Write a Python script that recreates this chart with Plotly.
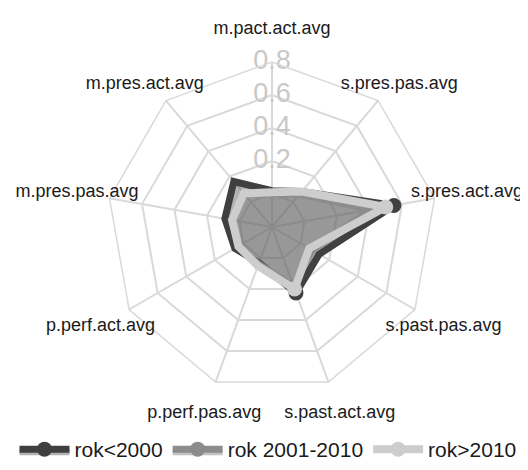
import plotly.graph_objects as go

categories = ["m.pact.act.avg", "s.pres.pas.avg", "s.pres.act.avg", "s.past.pas.avg",
              "s.past.act.avg", "p.perf.pas.avg", "p.perf.act.avg", "m.pres.pas.avg",
              "m.pres.act.avg"]

rok_lt_2000 = [0.02, 0.08, 0.55, 0.13, 0.225, 0.03, 0.06, 0.09, 0.16]
rok_2001_2010 = [0.0, 0.06, 0.41, 0.08, 0.18, 0.04, 0.03, 0.05, 0.06]
rok_gt_2010 = [0.01, 0.08, 0.50, 0.06, 0.20, 0.05, 0.035, 0.045, 0.065]

series_names = ["rok<2000", "rok 2001-2010", "rok>2010"]
series_values = [rok_lt_2000, rok_2001_2010, rok_gt_2010]
series_colors = ["#404040", "#8c8c8c", "#cdcdcd"]
series_widths = [7, 7, 8]
series_fills = ["rgba(64,64,64,0.4)", "rgba(120,120,120,0.45)", "rgba(0,0,0,0)"]

tick_vals = [0, 0.2, 0.4, 0.6, 0.8]
tick_text = ["0", "0.2", "0.4", "0.6", "0.8"]
r_min, r_max = -0.2, 0.8
label_r = 1.0
label_range_max = 1.05
label_positions = ["middle center", "bottom center", "middle center", "middle center",
                   "middle center", "middle center", "middle center", "middle center",
                   "bottom center"]

FONT = "Liberation Sans, Arial, sans-serif"
GRID = "#d9d9d9"

# geometry (pixels); the page adds an 8px body margin, so the figure is 8px smaller
W, H = 520, 462
cx, cy, R = 264, 219, 165


def domain_for(radius):
    return dict(x=[(cx - radius) / W, (cx + radius) / W],
                y=[(H - cy - radius) / H, (H - cy + radius) / H])


fig = go.Figure()

# radial tick labels (drawn beneath the series)
fig.add_trace(go.Scatterpolar(
    r=tick_vals, theta=[categories[0]] * len(tick_vals), mode="text",
    text=tick_text, textposition="middle center",
    textfont=dict(size=27, color="#c8c8c8", family=FONT),
    showlegend=False, hoverinfo="skip", cliponaxis=False))

for name, vals, col, lw, fc in zip(series_names, series_values, series_colors,
                                   series_widths, series_fills):
    fig.add_trace(go.Scatterpolar(
        r=vals + vals[:1], theta=categories + categories[:1],
        name=name, mode="lines+markers",
        line=dict(color=col, width=lw),
        marker=dict(color=col, size=15),
        fill="toself", fillcolor=fc))

# category labels on an overlaid, wider polar subplot
fig.add_trace(go.Scatterpolar(
    r=[label_r] * len(categories), theta=categories, mode="text",
    text=categories, textposition=label_positions,
    textfont=dict(size=18, color="#1a1a1a", family=FONT),
    showlegend=False, hoverinfo="skip", cliponaxis=False, subplot="polar2"))

R2 = R * (label_range_max - r_min) / (r_max - r_min)

fig.update_layout(
    width=W, height=H,
    margin=dict(l=0, r=0, t=0, b=0, autoexpand=False),
    paper_bgcolor="white", plot_bgcolor="white",
    font=dict(family=FONT, color="#1a1a1a"),
    polar=dict(
        domain=domain_for(R),
        bgcolor="white",
        gridshape="linear",
        radialaxis=dict(range=[r_min, r_max], tickvals=tick_vals, showticklabels=False,
                        ticks="", showline=False, gridcolor=GRID, gridwidth=1.5),
        angularaxis=dict(rotation=90, direction="clockwise", categoryorder="array",
                         categoryarray=categories, showticklabels=False, ticks="",
                         gridcolor=GRID, gridwidth=1.5, linecolor=GRID, linewidth=1.5,
                         showline=True),
    ),
    polar2=dict(
        domain=domain_for(R2),
        bgcolor="rgba(0,0,0,0)",
        gridshape="linear",
        radialaxis=dict(range=[r_min, label_range_max], visible=False, showgrid=False),
        angularaxis=dict(rotation=90, direction="clockwise", categoryorder="array",
                         categoryarray=categories, showticklabels=False, ticks="",
                         showgrid=False, showline=False),
    ),
    legend=dict(orientation="h", x=0.5, xanchor="center", y=0.0, yanchor="bottom",
                font=dict(size=21, family=FONT, color="#1a1a1a"), itemwidth=50),
    showlegend=True,
)

fig.write_html("out.html")
